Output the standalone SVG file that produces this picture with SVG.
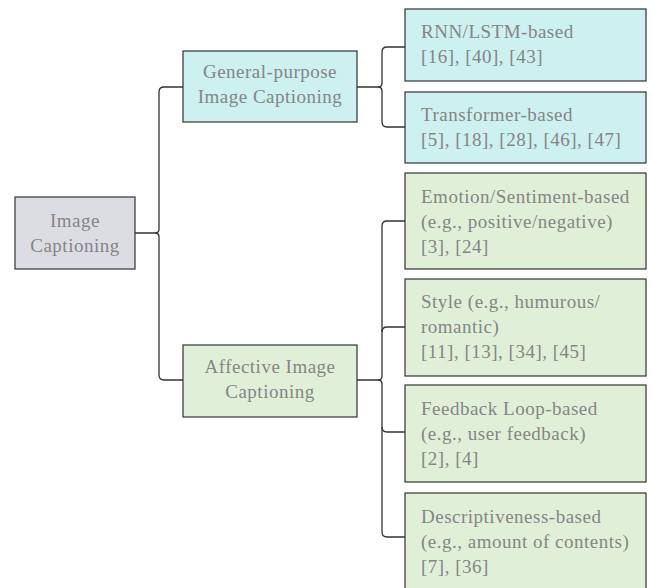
<svg xmlns="http://www.w3.org/2000/svg" width="653" height="588" viewBox="0 0 653 588" font-family="Liberation Serif, DejaVu Serif, serif">
<style>
.box{stroke:#333;stroke-width:1.2}
.root{fill:#dcdde3}
.blue{fill:#cdf0f1}
.green{fill:#e0f0d8}
text{font-size:19px;fill:#858585;letter-spacing:0.5px}
.c{text-anchor:middle}
#connectors path{fill:none;stroke:#333;stroke-width:1.3}
</style>
<rect width="653" height="588" fill="#fff"/>
<g id="connectors">
<path d="M183 87 H164 Q159 87 159 92 V229 Q159 233 155 233 H135"/>
<path d="M183 380 H164 Q159 380 159 375 V237 Q159 233 155 233"/>
<path d="M405 47 H387 Q382 47 382 52 V83 Q382 87 378 87 H357"/>
<path d="M405 127 H387 Q382 127 382 122 V91 Q382 87 378 87"/>
<path d="M405 221 H387 Q382 221 382 226 V376 Q382 380 378 380 H357"/>
<path d="M405 537 H387 Q382 537 382 532 V384 Q382 380 378 380"/>
<path d="M405 327 H387 Q382 327 382 332"/>
<path d="M405 432 H387 Q382 432 382 427"/>
</g>
<g id="root" font-family="Liberation Serif">
<rect class="box root" x="15" y="197" width="120" height="72"/>
<text class="c" x="75" y="227">Image</text>
<text class="c" x="75" y="252">Captioning</text>
</g>
<g id="general" font-family="Liberation Serif">
<rect class="box blue" x="183" y="51" width="174" height="71"/>
<text class="c" x="270" y="78">General-purpose</text>
<text class="c" x="270" y="103">Image Captioning</text>
</g>
<g id="affective" font-family="Liberation Serif">
<rect class="box green" x="183" y="345" width="174" height="72"/>
<text class="c" x="270" y="373">Affective Image</text>
<text class="c" x="270" y="398">Captioning</text>
</g>
<g id="rnn" font-family="Liberation Serif">
<rect class="box blue" x="405" y="9" width="241" height="72"/>
<text x="421" y="38">RNN/LSTM-based</text>
<text x="421" y="63">[16], [40], [43]</text>
</g>
<g id="transformer" font-family="Liberation Serif">
<rect class="box blue" x="405" y="92" width="241" height="71"/>
<text x="421" y="121">Transformer-based</text>
<text x="421" y="146">[5], [18], [28], [46], [47]</text>
</g>
<g id="emotion" font-family="Liberation Serif">
<rect class="box green" x="405" y="173" width="241" height="96"/>
<text x="421" y="203">Emotion/Sentiment-based</text>
<text x="421" y="228">(e.g., positive/negative)</text>
<text x="421" y="253">[3], [24]</text>
</g>
<g id="style" font-family="Liberation Serif">
<rect class="box green" x="405" y="279" width="241" height="97"/>
<text x="421" y="308">Style (e.g., humurous/</text>
<text x="421" y="333">romantic)</text>
<text x="421" y="358">[11], [13], [34], [45]</text>
</g>
<g id="feedback" font-family="Liberation Serif">
<rect class="box green" x="405" y="385" width="241" height="97"/>
<text x="421" y="415">Feedback Loop-based</text>
<text x="421" y="440">(e.g., user feedback)</text>
<text x="421" y="465">[2], [4]</text>
</g>
<g id="descriptive" font-family="Liberation Serif">
<rect class="box green" x="405" y="493" width="241" height="100"/>
<text x="421" y="523">Descriptiveness-based</text>
<text x="421" y="548">(e.g., amount of contents)</text>
<text x="421" y="573">[7], [36]</text>
</g>
</svg>
